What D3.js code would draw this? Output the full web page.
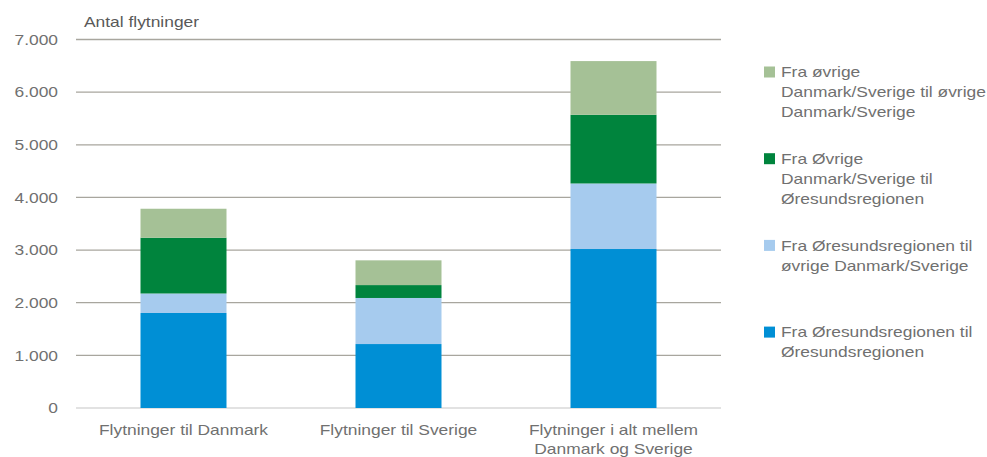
<!DOCTYPE html>
<html><head><meta charset="utf-8">
<script src="https://cdn.jsdelivr.net/npm/d3@7"></script>
<style>body{margin:0;background:#fff;} svg{display:block;font-family:"Liberation Sans",Arial,sans-serif;}</style>
</head><body>
<svg id="c" width="987" height="457"></svg>
<script>
const categories = [["Flytninger til Danmark"], ["Flytninger til Sverige"], ["Flytninger i alt mellem", "Danmark og Sverige"]];
const seriesNames = [
  ["Fra Øresundsregionen til", "Øresundsregionen"],
  ["Fra Øresundsregionen til", "øvrige Danmark/Sverige"],
  ["Fra Øvrige", "Danmark/Sverige til", "Øresundsregionen"],
  ["Fra øvrige", "Danmark/Sverige til øvrige", "Danmark/Sverige"]
];
const oresundToOresund = [1805, 1215, 3020];
const oresundToOther = [370, 875, 1245];
const otherToOresund = [1060, 245, 1305];
const otherToOther = [550, 470, 1020];
const yTicks = [0, 1000, 2000, 3000, 4000, 5000, 6000, 7000];
const colors = ["#008fd5", "#a6cbee", "#00843d", "#a5c196"];

const SX = 1.16; // horizontal stretch of text in the reference
const seriesValues = [oresundToOresund, oresundToOther, otherToOresund, otherToOther];
const keys = ["s0","s1","s2","s3"];
const table = categories.map((c, i) => {
  const o = {cat: i};
  keys.forEach((k, j) => o[k] = seriesValues[j][i]);
  return o;
});
const stack = d3.stack().keys(keys)(table);

const svg = d3.select("#c");
const x = d3.scaleBand().domain(categories.map((c,i)=>i)).range([76, 721]).paddingInner(0.6).paddingOuter(0.3);
const y = d3.scaleLinear().domain([0, 7000]).range([408, 39.5]);

// gridlines
svg.append("g").selectAll("line").data(yTicks).join("line")
  .attr("x1", 76).attr("x2", 721)
  .attr("y1", d => y(d)).attr("y2", d => y(d))
  .attr("stroke", d => d === 0 ? "#d9d9d9" : "#a8a69e").attr("stroke-width", 1.3);

// tick labels
const fmt = d => d === 0 ? "0" : d3.format(",")(d).replace(/,/g, ".");
svg.append("g").selectAll("text").data(yTicks).join("text")
  .attr("transform", d => `translate(58,${y(d)}) scale(${SX},1)`).attr("dy", "0.35em")
  .attr("text-anchor", "end").attr("fill", "#707070").attr("font-size", 15)
  .text(fmt);

// bars
svg.append("g").selectAll("g").data(stack).join("g")
  .attr("fill", (d, i) => colors[i])
  .selectAll("rect").data(d => d).join("rect")
  .attr("x", d => x(d.data.cat)).attr("width", x.bandwidth())
  .attr("y", d => y(d[1])).attr("height", d => y(d[0]) - y(d[1]));

// category labels
const cl = svg.append("g").selectAll("text").data(categories).join("text")
  .attr("text-anchor", "middle").attr("fill", "#707070").attr("font-size", 15)
  .attr("transform", (d, i) => `translate(${x(i) + x.bandwidth()/2},434.5) scale(${SX},1)`);
cl.selectAll("tspan").data(d => d).join("tspan")
  .attr("x", 0).attr("dy", (d, i) => i === 0 ? 0 : 20).text(d => d);

// axis title
svg.append("text").attr("transform", `translate(84,27) scale(${SX},1)`)
  .attr("fill", "#595959").attr("font-size", 15).text("Antal flytninger");

// legend (reverse order)
const legendOrder = [3, 2, 1, 0];
const lg = svg.append("g").selectAll("g").data(legendOrder).join("g")
  .attr("transform", (d, i) => `translate(764,${72 + i * 86.7})`);
lg.append("rect").attr("x", 0).attr("y", -5.5).attr("width", 11).attr("height", 11).attr("fill", d => colors[d]);
const lt = lg.append("text").attr("transform", `translate(17,0) scale(${SX},1)`)
  .attr("fill", "#707070").attr("font-size", 15);
lt.selectAll("tspan").data(d => seriesNames[d]).join("tspan")
  .attr("x", 0).attr("dy", (d, i) => i === 0 ? "0.35em" : 20).text(d => d);
</script>
</body></html>
